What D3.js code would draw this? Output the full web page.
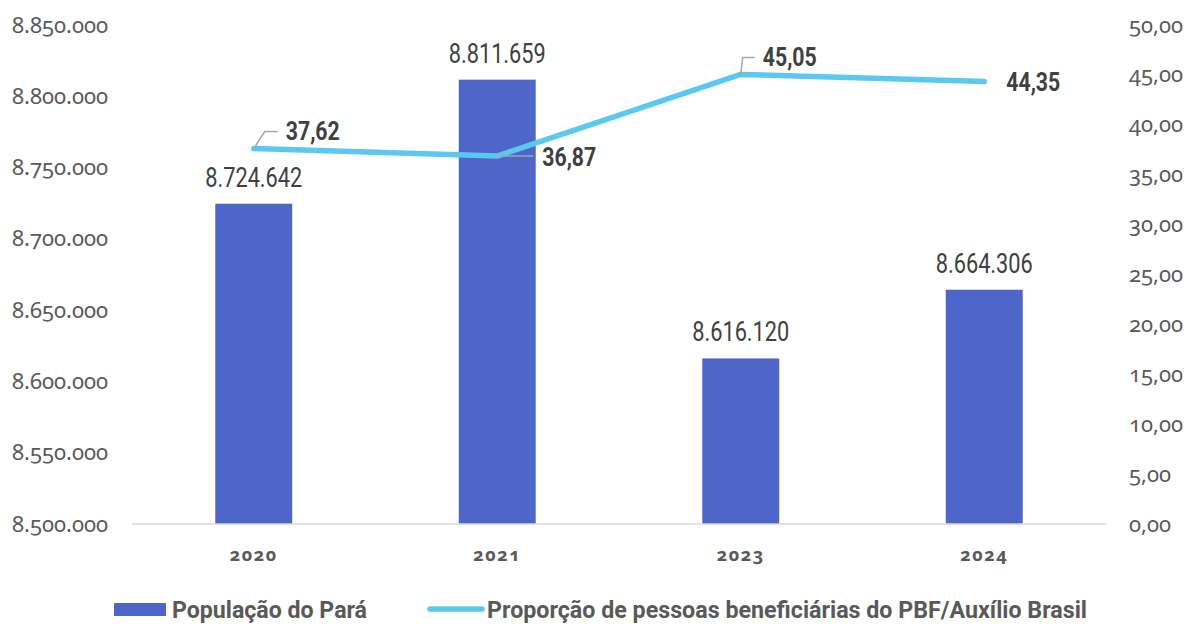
<!DOCTYPE html>
<html><head><meta charset="utf-8">
<script src="https://cdn.jsdelivr.net/npm/d3@7"></script>
<style>
body{margin:0;background:#fff;}
.tick-num{font-family:"Noto Sans",sans-serif;font-variant-numeric:oldstyle-nums;font-feature-settings:"onum" 1;}
</style>
</head><body>
<svg id="chart" width="1193" height="624"></svg>
<script>
const categories = ["2020","2021","2023","2024"];
const population = [8724642, 8811659, 8616120, 8664306];
const proportion = [37.62, 36.87, 45.05, 44.35];
const leftTicks = [8500000,8550000,8600000,8650000,8700000,8750000,8800000,8850000];
const rightTicks = [0,5,10,15,20,25,30,35,40,45,50];
const seriesNames = ["População do Pará","Proporção de pessoas beneficiárias do PBF/Auxílio Brasil"];

const svg = d3.select("#chart");
const m={left:132,right:1106,top:25,bottom:524};
const x=d3.scaleBand().domain(categories).range([m.left,m.right]).paddingInner(0.684).paddingOuter(0.342);
const yL=d3.scaleLinear().domain([8500000,8850000]).range([m.bottom,m.top]);
const yR=d3.scaleLinear().domain([0,50]).range([m.bottom,m.top]);
const barColor="#4e66c7", lineColor="#5bc8f0", grey="#595959";

const fmtPop = v => d3.format(",")(v).replace(/,/g,".");
const fmtR = v => d3.format(".2f")(v).replace(".",",");

// left axis
const gL=svg.append("g").attr("transform",`translate(${m.left},0)`)
 .call(d3.axisLeft(yL).tickValues(leftTicks).tickFormat(fmtPop).tickSize(0).tickPadding(24));
gL.select(".domain").remove();
gL.selectAll("text").attr("class","tick-num").attr("fill",grey).style("font-size","22px");

// right axis
const gR=svg.append("g").attr("transform",`translate(${m.right},0)`)
 .call(d3.axisRight(yR).tickValues(rightTicks).tickFormat(fmtR).tickSize(0).tickPadding(23));
gR.select(".domain").remove();
gR.selectAll("text").attr("class","tick-num").attr("fill",grey).style("font-size","22px");

// bars
svg.append("g").selectAll("rect").data(categories).join("rect")
 .attr("x",d=>x(d)).attr("width",x.bandwidth())
 .attr("y",(d,i)=>yL(population[i])).attr("height",(d,i)=>yL.range()[0]-yL(population[i]))
 .attr("fill",barColor);

// baseline
svg.append("line").attr("x1",m.left).attr("x2",m.right).attr("y1",m.bottom).attr("y2",m.bottom)
 .attr("stroke","#d9d9d9").attr("stroke-width",1.5);

// x axis labels
const gX=svg.append("g").attr("transform",`translate(0,${m.bottom})`)
 .call(d3.axisBottom(x).tickSize(0).tickPadding(24));
gX.select(".domain").remove();
gX.selectAll("text").attr("class","tick-num").attr("fill",grey).style("font-size","18px")
 .style("font-weight","bold").style("letter-spacing","1.5px");

// bar labels
svg.append("g").selectAll("text").data(categories).join("text")
 .attr("x",d=>x(d)+x.bandwidth()/2).attr("y",(d,i)=>yL(population[i])-17)
 .attr("text-anchor","middle").attr("fill","#404040")
 .style("font-family","Roboto, sans-serif").style("font-size","27px")
 .attr("textLength",97).attr("lengthAdjust","spacingAndGlyphs")
 .text((d,i)=>fmtPop(population[i]));

// line
const cx=d=>x(d)+x.bandwidth()/2;
svg.append("path").datum(categories)
 .attr("d",d3.line().x(d=>cx(d)).y((d,i)=>yR(proportion[i])))
 .attr("fill","none").attr("stroke",lineColor).attr("stroke-width",5.5)
 .attr("stroke-linecap","round").attr("stroke-linejoin","round");

// leader lines and line labels
const lab=[
 {dx:32,dy:-8.5,leader:[[0,0],[11,-17],[24,-17]]},
 {dx:45,dy:10,leader:[[0,0],[36,0]]},
 {dx:22,dy:-8.5,leader:[[0,0],[2,-17],[14,-17]]},
 {dx:22,dy:9.6,leader:null}
];
categories.forEach((c,i)=>{
 const px=cx(c), py=yR(proportion[i]);
 const L=lab[i];
 if(L.leader){
  svg.append("path").attr("d",d3.line()(L.leader.map(p=>[px+p[0],py+p[1]])))
   .attr("fill","none").attr("stroke","#a6a6a6").attr("stroke-width",1.5);
 }
 svg.append("text").attr("x",px+L.dx).attr("y",py+L.dy)
  .attr("fill","#404040").style("font-family","Roboto, sans-serif").style("font-size","26px")
  .style("font-weight","bold").attr("textLength",54).attr("lengthAdjust","spacingAndGlyphs")
  .text(fmtR(proportion[i]));
});

// legend
const lg=svg.append("g");
lg.append("rect").attr("x",114).attr("y",603).attr("width",52).attr("height",13).attr("fill",barColor);
lg.append("text").attr("x",172).attr("y",618)
 .attr("fill",grey).style("font-family","Roboto, sans-serif").style("font-size","23px").style("font-weight","bold")
 .attr("textLength",195).attr("lengthAdjust","spacingAndGlyphs").text(seriesNames[0]);
lg.append("line").attr("x1",430).attr("x2",482).attr("y1",609).attr("y2",609)
 .attr("stroke",lineColor).attr("stroke-width",5.5).attr("stroke-linecap","round");
lg.append("text").attr("x",487).attr("y",618)
 .attr("fill",grey).style("font-family","Roboto, sans-serif").style("font-size","23px").style("font-weight","bold")
 .attr("textLength",600).attr("lengthAdjust","spacingAndGlyphs").text(seriesNames[1]);
</script>
</body></html>
